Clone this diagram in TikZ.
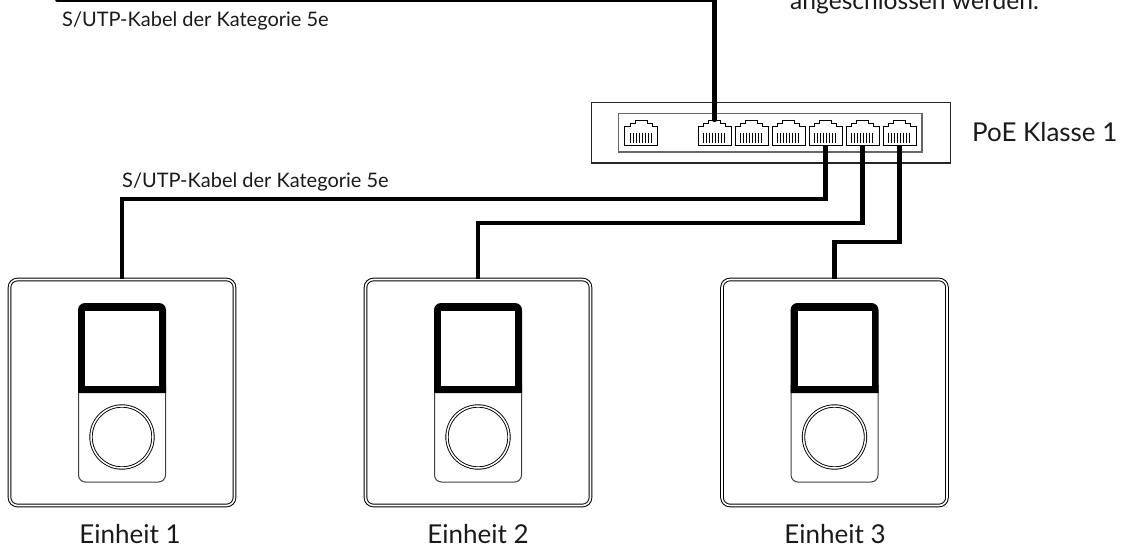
\documentclass[tikz,border=0pt]{standalone}
\usepackage{fontspec}
\setmainfont{Lato}
\usetikzlibrary{calc}
\definecolor{txt}{HTML}{1A1A1A}
\tikzset{
  x=1pt,y=-1pt,
  wire/.style={line width=4.7pt,line join=miter,black},
  lab/.style={text=txt,inner sep=0pt,font=\fontsize{20}{22}\selectfont,anchor=base west},
  biglab/.style={text=txt,inner sep=0pt,font=\fontsize{26}{30}\selectfont,anchor=base},
  toplab/.style={text=txt,inner sep=0pt,font=\fontsize{24.6}{28}\selectfont,anchor=base west},
  portbox/.style={rectangle,inner sep=0pt,minimum width=33pt,minimum height=25pt},
  unitbox/.style={rectangle,draw=black,double=white,double distance=1.6pt,line width=1pt,rounded corners=8pt,minimum width=225pt,minimum height=226pt,inner sep=0pt},
  knob/.style={circle,draw=black,double=white,double distance=1.5pt,line width=0.9pt,minimum size=62pt,inner sep=0pt},
  portline/.style={draw=black,line width=1pt,line join=miter},
  teeth/.style={draw=black,line width=0.8pt},
  switchouter/.style={draw=black!85,line width=1.1pt},
  switchinner/.style={draw=black!60,line width=1.1pt},
  pics/rjport/.style={code={
    \draw[portline,fill=white] (-16.5,12.5) -- (-16.5,-6.5) -- (-11,-6.5) -- (-11,-9.5) -- (-6,-9.5) -- (-6,-12.5) -- (6,-12.5) -- (6,-9.5) -- (11,-9.5) -- (11,-6.5) -- (16.5,-6.5) -- (16.5,12.5) -- cycle;
    \foreach \tx in {-11,-8,...,11} \draw[teeth] (\tx,0.5) -- (\tx,10.5);
  }}
}
\begin{document}
\begin{tikzpicture}
\useasboundingbox (0,0) rectangle (1122,551);
\clip (0,0) rectangle (1122,551);
% switch
\draw[switchouter] (591.5,102.5) rectangle (950.5,163);
\draw[switchinner] (618.5,113.5) rectangle (922,152);
% ports
\foreach \n/\px in {0/641,1/714.5,2/751.5,3/788.5,4/825.5,5/862.5,6/899.5}{
  \node[portbox] (p\n) at (\px,132.5) {};
  \pic at (p\n.center) {rjport};
}
% units
\foreach \n/\ux in {1/122,2/478,3/834.5}{
  \node[unitbox] (u\n) at (\ux,392.5) {};
  \draw[draw=black!75,line width=1pt,rounded corners=7pt] (\ux-43.5,385) -- (\ux-43.5,482) -- (\ux+43.5,482) -- (\ux+43.5,385);
  \path[fill=black,rounded corners=7pt] (\ux-44,393) [sharp corners] -- (\ux-44,340) [rounded corners=7pt] -- (\ux-44,303) -- (\ux+44,303) -- (\ux+44,340) [sharp corners] -- (\ux+44,393) -- cycle;
  \fill[white] (\ux-37,311) rectangle (\ux+37,386);
  \node[knob] (k\n) at (\ux,437) {};
}
% connectors
\coordinate (topl) at (57.5,0);
\coordinate (b1) at (122,199);
\coordinate (b2) at (478,223);
\coordinate (b3) at (834.5,242);
\draw[wire,line cap=round] (topl) -- (714.5,0) -- (p1.north);
\draw[wire] (p4.south) |- (b1) -- (u1.north);
\draw[wire] (p5.south) |- (b2) -- (u2.north);
\draw[wire] (p6.south) |- (b3) -- (u3.north);
% labels
\node[lab] (l1) at (62,27) {S/UTP-Kabel der Kategorie 5e};
\node[lab] (l2) at (122,187) {S/UTP-Kabel der Kategorie 5e};
\node[toplab] (l3) at (790,10) {angeschlossen werden.};
\node[biglab,anchor=base west] (l4) at (972,141) {PoE Klasse 1};
\node[biglab] (e1) at (130,543) {Einheit 1};
\node[biglab] (e2) at (478,543) {Einheit 2};
\node[biglab] (e3) at (835,543) {Einheit 3};
\end{tikzpicture}
\end{document}
